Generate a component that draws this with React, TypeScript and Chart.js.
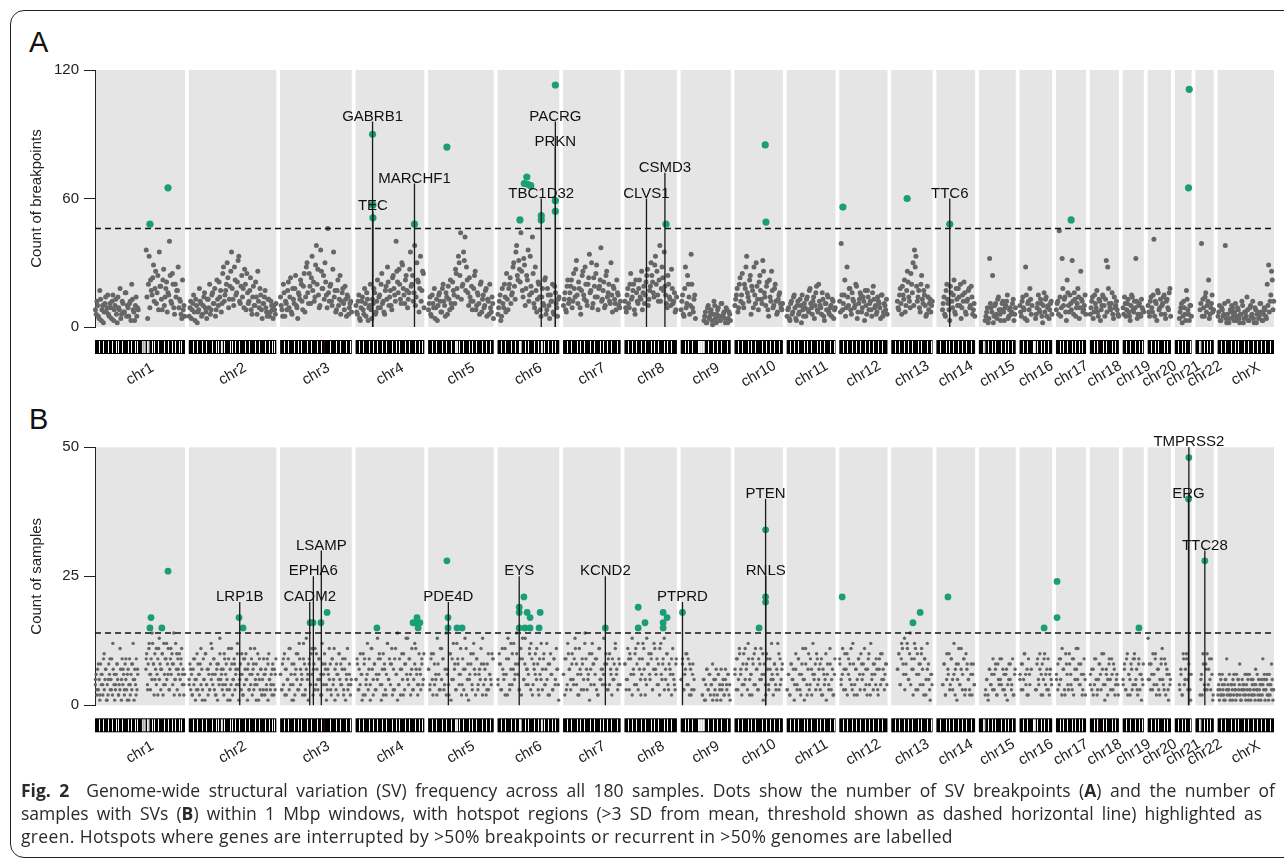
import React, { useEffect, useRef } from "react";
import { Chart, registerables } from "chart.js";
Chart.register(...registerables);

// ---------- data ----------
const CHROMS = ["chr1","chr2","chr3","chr4","chr5","chr6","chr7","chr8","chr9","chr10","chr11","chr12","chr13","chr14","chr15","chr16","chr17","chr18","chr19","chr20","chr21","chr22","chrX"];
const CHROM_LENGTHS = [248.96,242.19,198.3,190.21,181.54,170.81,159.35,145.14,138.39,133.8,135.09,133.28,114.36,107.04,101.99,90.34,83.26,80.37,58.62,64.44,46.71,50.82,156.04];
const GAP_MB = 10.5;

// Panel A: count of breakpoints per window (estimated, "_" = no data)
const BREAKPOINTS_A = [
  "8 12 5 17 3 10 7 14 9 6 11 4 15 8 13 2 9 18 6 11 7 16 10 5 12 20 8 3 14 9 _ _ _ _ _ 36 4 33 22 15 29 18 11 24 35 19 8 27 14 21 16 40 12 25 9 20 17 28 13 6 22 10",
  "5 12 8 15 3 10 7 18 11 6 14 9 4 13 20 8 16 11 5 22 10 14 7 25 12 17 30 9 19 35 13 28 15 21 33 11 24 18 27 8 16 12 23 6 19 10 14 26 9 15 4 11 17 7 13 5 12 8 10 6",
  "14 8 20 5 11 17 9 23 6 13 18 10 4 15 22 12 19 7 28 16 25 11 33 21 14 38 27 9 36 18 24 30 15 46 12 20 10 35 17 8 22 13 6 16 11 19 5 14 9 12",
  "10 6 15 3 12 8 18 5 13 9 20 4 11 16 7 22 14 9 25 12 6 19 28 10 17 8 24 15 40 21 27 13 30 18 11 24 9 16 35 20 12 38 14 22 7 33 17 25",
  "8 14 5 11 18 9 3 15 12 7 20 10 16 6 13 22 9 17 11 25 14 30 44 19 35 42 28 16 23 12 8 18 26 10 15 6 21 13 9 17 5 12 20 7 11",
  "6 12 3 18 9 14 25 8 20 11 16 30 13 38 22 27 44 17 32 10 24 36 15 19 42 11 28 7 21 14 5 18 10 23 8 15 4 12 20 6 16 9 13",
  "10 16 7 22 13 19 9 25 14 31 11 18 6 24 15 28 12 20 34 17 9 23 14 29 8 19 37 13 21 10 26 16 12 30 7 18 11 22 15 9",
  "12 7 18 9 25 14 20 6 16 11 22 13 8 19 15 24 10 17 30 21 14 33 26 12 38 18 23 35 15 9 20 13 27 11 16 8",
  "8 15 5 28 11 20 6 34 9 13 4 _ _ _ _ _ 3 7 2 10 5 8 1 12 4 6 9 3 11 5 7 2 8 4 6",
  "10 15 7 20 12 25 9 18 33 14 22 6 17 28 11 19 8 24 13 31 16 10 21 5 14 26 9 18 12 7 15 11 8",
  "5 9 3 12 7 15 4 10 6 13 2 8 11 5 14 7 18 9 12 4 16 8 20 10 6 13 3 11 15 7 9 5 12 8",
  "12 39 8 15 5 28 10 18 6 13 9 20 4 11 16 7 14 3 10 17 8 12 5 19 9 6 14 11 4 15 7 10 13",
  "_ _ _ _ 12 8 18 6 15 22 10 26 14 9 20 30 36 33 12 17 7 24 11 15 5 19 8 13 10",
  "_ _ _ _ 8 14 5 20 11 3 16 9 22 6 13 18 10 4 15 21 7 12 17 9 19 6 11",
  "_ _ _ _ 3 7 2 32 9 24 5 11 4 14 6 8 12 3 10 15 5 9 7 13 6",
  "10 5 14 8 28 3 12 18 6 _ _ 4 9 15 7 11 2 16 13 5 10 8 12",
  "8 12 45 5 32 10 14 3 16 7 11 31 6 13 9 18 4 26 12 8 15",
  "6 12 4 15 9 7 13 3 10 14 5 31 28 11 8 16 4 9 12 6",
  "9 14 5 11 7 3 15 8 12 32 4 10 6 13 8",
  "10 5 14 7 41 12 3 16 9 6 11 15 4 13 8 18",
  "_ _ _ 4 9 2 12 6 17 8 3 10",
  "_ _ _ 8 39 13 5 16 10 22 6 11 7",
  "5 10 3 8 6 38 2 12 4 7 9 3 11 5 8 2 6 10 4 7 14 3 9 5 12 2 8 6 4 11 7 3 9 5 20 29 12 26 8",
];
// Panel A: further windows (interleaved estimates of the dense part of the cloud)
const BREAKPOINTS_A_MORE = [
  "6 10 4 13 8 2 11 7 15 5 9 12 3 10 6 14 8 4 12 7 16 5 9 11 3 13 7 10 5 8 _ _ _ _ _ 14 20 9 17 23 12 26 16 8 19 13 22 10 18 7 15 24 11 20 6 14 17 9 12 4 8 5",
  "9 4 11 7 13 2 8 12 5 10 16 7 13 9 6 15 11 18 8 13 21 17 11 28 15 20 23 13 26 18 10 22 16 31 12 19 14 9 20 25 11 17 8 14 10 21 6 12 18 8 11 14 9 5 13 7 10 4 8 11",
  "10 5 16 12 8 21 14 7 18 11 24 9 16 13 20 8 25 14 30 11 19 23 17 12 29 20 15 10 26 18 13 21 9 16 19 12 27 14 7 17 10 24 12 18 8 13 15 6 11 7",
  "7 12 4 9 14 6 11 16 3 10 8 13 18 6 12 9 15 20 11 7 17 13 21 14 10 23 18 12 26 16 20 11 29 15 22 17 13 27 19 24 16 10 30 21 18 12 26 9",
  "11 6 15 9 4 13 10 16 7 18 12 5 14 19 8 11 21 15 27 18 33 24 13 20 31 17 22 10 14 19 12 24 8 16 11 20 7 15 10 18 13 6 9 14 4",
  "9 15 5 11 20 7 13 18 23 15 28 19 35 24 31 21 26 14 29 18 22 12 33 16 25 9 17 13 20 8 14 11 22 6 18 10 15 12 7 19 11 5 14",
  "13 8 19 11 16 22 12 18 27 15 21 9 17 26 13 20 10 23 16 30 11 19 25 14 18 22 12 17 9 24 14 20 11 15 19 13 8 16 10 12",
  "9 15 11 20 13 17 8 22 12 18 14 26 16 11 21 27 13 19 24 16 29 20 15 22 12 28 17 19 11 24 14 10 18 12 7 14",
  "12 6 18 9 24 14 10 20 7 15 _ _ _ _ _ _ 5 2 9 4 7 3 6 10 2 8 5 3 11 6 4 9 2 7 3",
  "13 18 9 23 15 11 20 28 16 12 24 19 9 15 30 13 21 17 11 26 14 19 8 22 12 17 10 20 6 13 16 9 11",
  "8 4 11 6 14 9 3 12 7 10 15 5 9 13 8 17 11 6 14 10 19 7 12 9 16 5 11 8 14 6 10 13 4 9",
  "7 15 11 22 9 14 18 8 16 12 10 19 7 13 15 9 12 17 6 14 11 8 16 13 10 7 12 9 15 5 11 8 6",
  "_ _ _ _ 9 15 11 19 13 7 17 21 12 25 16 10 28 19 14 9 20 13 17 10 6 14 11 7 12",
  "_ _ _ _ 11 6 17 13 8 19 12 15 7 18 10 14 20 9 12 16 6 13 18 10 14 8 5",
  "_ _ _ _ 5 9 4 11 7 2 10 6 13 8 3 11 7 9 12 4 8 6 11 3 9",
  "7 12 9 4 15 11 8 13 10 _ _ 6 11 8 13 5 10 7 14 9 4 11 6",
  "11 6 14 9 18 13 7 22 10 15 8 12 16 5 11 14 9 13 7 10 6",
  "9 14 7 11 17 5 12 8 15 10 13 7 18 9 11 6 14 10 8 5",
  "6 11 8 13 5 10 14 7 9 12 6 11 5 9 7",
  "7 12 9 15 5 11 17 8 13 10 14 6 12 9 16 5",
  "_ _ _ 7 11 5 9 3 13 6 10 5",
  "_ _ _ 11 5 9 14 7 12 4 9 15 8",
  "7 3 9 5 11 4 6 2 8 10 5 7 3 9 4 6 12 2 7 5 8 3 10 6 4 9 2 7 5 11 3 6 8 4 10 7 15 22 12",
];

// Panel B: count of samples per window (estimated)
const SAMPLES_B = [
  "5 3 8 2 6 4 10 7 1 5 9 3 12 6 4 8 2 11 5 7 3 9 6 1 4 8 12 5 2 7 _ _ _ _ _ 9 3 12 6 14 8 5 11 2 13 7 10 4 9 12 6 3 11 8 14 5 10 7 2 9 6 4",
  "4 7 2 9 5 3 8 6 11 1 5 10 4 7 3 12 6 9 2 8 5 13 7 4 10 6 3 9 1 11 5 8 7 12 4 6 10 2 9 5 7 3 11 6 8 4 1 10 5 7 2 9 6 3 8 5 4 7 2 6",
  "6 3 9 2 7 5 11 4 8 1 6 10 3 12 7 5 9 2 13 6 8 4 11 7 3 10 5 9 2 12 6 8 4 7 11 3 9 5 1 8 6 10 4 7 2 9 5 3 6 4",
  "5 8 3 10 6 2 9 4 12 7 1 11 5 8 3 13 6 9 4 10 7 2 12 5 8 11 3 9 6 14 4 7 10 2 8 13 5 9 6 11 3 12 7 4 10 6 8 5",
  "7 4 10 2 8 5 13 6 3 11 9 4 14 7 2 10 5 12 8 3 9 6 11 4 7 13 2 8 5 10 3 12 6 9 4 7 11 2 8 5 3 10 6 4 9",
  "5 8 3 11 6 2 9 13 4 7 10 12 6 14 8 3 11 9 5 13 7 4 10 12 2 8 6 11 3 9 5 7 10 4 12 2 8 6 3 9 5 7 4",
  "6 9 3 12 7 5 10 4 13 8 2 11 6 9 3 14 7 5 10 4 12 8 6 9 2 11 5 7 13 4 8 3 10 6 9 5 12 7 4 8",
  "8 5 11 3 9 13 6 10 4 12 7 2 9 11 5 13 8 6 10 3 12 7 9 4 11 6 8 13 5 10 3 7 9 6 4 8",
  "5 9 3 7 10 4 8 2 6 3 _ _ _ _ _ 2 5 1 7 3 6 4 8 2 5 1 6 3 7 4 2 5 3 6 4",
  "6 9 3 11 7 4 10 5 8 12 2 6 9 4 11 7 3 8 5 10 6 2 9 4 7 12 5 8 3 6 10 4 7",
  "3 6 2 8 5 1 7 4 9 3 6 11 5 8 2 10 4 7 12 6 3 9 5 8 2 7 4 10 6 3 8 5 2 6",
  "9 5 11 7 3 10 6 8 4 12 2 7 5 9 3 8 6 11 4 7 10 2 5 8 6 9 3 7 4 10 5 6 8",
  "_ _ _ _ 7 10 4 12 8 13 6 11 5 14 9 7 12 3 10 6 8 11 4 9 2 7 5 1 6",
  "_ _ _ _ 4 8 2 10 6 3 9 5 12 7 1 8 4 11 6 9 3 7 5 2 8 6 4",
  "_ _ _ _ 2 5 1 7 4 3 6 8 2 5 9 4 7 3 6 1 5 8 4 2 6",
  "5 8 3 10 6 2 9 4 7 _ _ 3 8 5 10 6 2 9 4 7 3 6 5",
  "6 3 9 5 11 7 2 8 4 10 6 3 9 5 7 11 4 8 2 6 5",
  "4 7 2 9 5 3 8 6 10 4 1 7 5 9 3 6 8 2 5 4",
  "5 8 3 10 6 2 7 4 9 5 3 8 6 1 4",
  "13 5 8 3 6 10 4 7 2 9 5 3 8 6 1 4",
  "_ _ _ 4 7 2 9 5 10 3 6 1",
  "_ _ _ 2 6 10 4 8 3 7 5 9 1",
  "3 6 2 4 1 5 9 3 2 4 1 6 3 2 5 8 1 3 4 2 6 1 3 5 2 4 7 3 1 2 4 9 5 3 6 2 4 8 3",
];
// Panel B: further windows, one character per window (digits, a=10, b=11, c=12, d=13, _ = no data)
const SAMPLES_B_MORE = [
  "4627351846293571428635927413685243719462853174926385174936__________7a48b6395c82a7469b5837a2c64958b3796a4825c7396a58b4726",
  "5836274915a3628473951a4726385b493627184a5637294851b3748259364a7158362947a5183649273b58461937253627491a536284739",
  "6384a72593b6148275a39462c8375194a628b473956284a713658294b7362a58493716b4825",
  "5937461a8256394b7283659a4172836c5948273b6149275a386d4927358b6247394a",
  "7395a46283b5937264a19573c8462937b51684a7293658d4728365a9",
  "4a8375b6293c4758a6392d58476b3947a5826c3947582a6394b71",
  "6294a73859b4627385c93617a84932b57468a3947258b6394",
  "8359a6274b83956c7248a5937b6482c5937a4862b539",
  "5836a4927385______2514736241537264135274621",
  "7395a6284b7395628a47395b6184a739562847c3958",
  "3628574a3962851b47392658a4739265184b3729",
  "8463a7295b3847296a5837294c6384729a57384",
  "_____7a49b638c5a4729b6384a7295c8364",
  "_____48257a4936285b47392a8536284",
  "_____3527469372845936274853927",
  "6385a4726_____3947285a639274",
  "5849273a6384927b5846392",
  "6374925837a46285937462",
  "4739265839a47293658",
  "5836a4927358b4927365",
  "____362a4795836",
  "____52837a49362",
  "2413526324153243612435243162534213542361435263124532143625341524361352416243513",
];

// hotspots: [chrom, position Mb, value]
const HOTSPOTS_A: [string, number, number][] = [
  ["chr1",152,48],["chr1",202,65],
  ["chr4",47,90],["chr4",48,57],["chr4",48,51],["chr4",163,48],
  ["chr5",52,84],
  ["chr6",81,70],["chr6",74,67],["chr6",85,66.5],["chr6",92,66],["chr6",62,50],["chr6",121,52],["chr6",121,50],["chr6",160,59],["chr6",160,54],["chr6",160,113],
  ["chr8",115,48],
  ["chr10",85,85],["chr10",87,49],
  ["chr12",10,56],
  ["chr13",44,60],
  ["chr14",37,48],
  ["chr17",42,50],
  ["chr21",40,111],["chr21",38,65],
];
const HOTSPOTS_B: [string, number, number][] = [
  ["chr1",155,17],["chr1",152,15],["chr1",185,15],["chr1",202,26],
  ["chr2",139,17],["chr2",150,15],
  ["chr3",83,16],["chr3",91,16],["chr3",113,16],["chr3",130,18],
  ["chr4",59,15],["chr4",170,17],["chr4",159,16],["chr4",173,15],["chr4",166,16],["chr4",178,16],
  ["chr5",52,28],["chr5",55,17],["chr5",55,15],["chr5",80,15],["chr5",94,15],
  ["chr6",60,19],["chr6",60,18],["chr6",73,21],["chr6",82,18],["chr6",90,17],["chr6",60,15],["chr6",76,15],["chr6",90,15],["chr6",115,15],["chr6",118,18],
  ["chr7",117,15],
  ["chr8",38,19],["chr8",38,15],["chr8",57,16],["chr8",107,18],["chr8",118,17],["chr8",107,16],["chr8",107,15],
  ["chr9",5,18],
  ["chr10",86,34],["chr10",86,21],["chr10",86,20],["chr10",68,15],
  ["chr12",8,21],
  ["chr13",60,16],["chr13",80,18],
  ["chr14",32,21],
  ["chr16",68,15],
  ["chr17",3,24],["chr17",3,17],
  ["chr19",45,15],
  ["chr21",39,48],["chr21",38,40],
  ["chr22",26,28],
];

// labelled genes: [name, chrom, position Mb, top of line]
const GENES_A: [string, string, number, number][] = [
  ["GABRB1","chr4",47,96],["TEC","chr4",48,54],["MARCHF1","chr4",163,67],
  ["PACRG","chr6",160,96],["PRKN","chr6",160,84],["TBC1D32","chr6",121,60],
  ["CLVS1","chr8",61,60],["CSMD3","chr8",112,72],["TTC6","chr14",37,60],
];
const GENES_B: [string, string, number, number][] = [
  ["LRP1B","chr2",141,20],["CADM2","chr3",82,20],["EPHA6","chr3",92,25],["LSAMP","chr3",114,30],
  ["PDE4D","chr5",56,20],["EYS","chr6",60,25],["KCND2","chr7",117,25],["PTPRD","chr9",5,20],
  ["PTEN","chr10",86,40],["RNLS","chr10",86.5,25],["TMPRSS2","chr21",39,50],["ERG","chr21",38,40],["TTC28","chr22",26,30],
];

const THRESHOLD_A = 46;
const THRESHOLD_B = 14;
const Y_MAX_A = 120;
const Y_MAX_B = 50;
const Y_STEP_A = 60;
const Y_STEP_B = 25;

// ideogram band patterns: 1 black, 0 thin white line, 2 light grey, 3 white block, 4 dark red
const IDEOGRAM = [
  "1010110101001011010100112202100101101010101001",
  "10101101011010013011001010110101101011010100",
  "101011010101101011010141101101011010",
  "10101101010110101101010110101101010",
  "101011010110103010110101011010101",
  "1010110101031010110101301010101",
  "10101101010110101101010101101",
  "101010110101101010110101011",
  "1010101103331011010101101",
  "1010110101011101010101101",
  "1010101101010110101011010",
  "1010110101011010101101011",
  "101011010101101011010",
  "10110101011010101101",
  "1021010101101010101",
  "1010110301010101",
  "1010101101010101",
  "101041010110101",
  "10101101010",
  "101010110101",
  "101010110",
  "1021010101",
  "10101101010110101101010101101",
];

// ---------- derived ----------
const OFFSETS: number[] = [];
{
  let acc = 0;
  CHROM_LENGTHS.forEach((len) => { OFFSETS.push(acc); acc += len + GAP_MB; });
}
const TOTAL = OFFSETS[OFFSETS.length - 1] + CHROM_LENGTHS[CHROM_LENGTHS.length - 1];
const chromIndex = (c: string) => CHROMS.indexOf(c);
const gx = (c: string, pos: number) => OFFSETS[chromIndex(c)] + pos;

function tokensToPoints(tokenLists: string[][], shift: number) {
  const pts: { x: number; y: number }[] = [];
  tokenLists.forEach((vals, i) => {
    const n = vals.length;
    vals.forEach((v, j) => {
      if (v === "_" || v === "") return;
      pts.push({ x: OFFSETS[i] + ((j + shift) * CHROM_LENGTHS[i]) / n, y: Number(v) });
    });
  });
  return pts;
}
const spaced = (arr: string[]) => arr.map((s) => s.trim().split(/\s+/));
const charCoded = (arr: string[]) =>
  arr.map((s) => s.split("").map((c) => (c === "_" ? "_" : String(parseInt(c, 16)))));

const FONT = "'Liberation Sans', Arial, Helvetica, sans-serif";
const GREY = "#666666";
const GREEN = "#1B9E77";

function makeConfig(opts: {
  points: { x: number; y: number }[]; hotspots: [string, number, number][]; genes: [string, string, number, number][];
  threshold: number; ymax: number; step: number; title: string; padTop: number; padBottom: number;
  greyR: number; greenR: number;
}) {
  const bandsPlugin = {
    id: "bands",
    beforeDraw(chart: any) {
      const { ctx, chartArea } = chart;
      const xs = chart.scales.x;
      ctx.save();
      ctx.fillStyle = "#E5E5E5";
      CHROMS.forEach((_, i) => {
        const x0 = xs.getPixelForValue(OFFSETS[i]);
        const x1 = xs.getPixelForValue(OFFSETS[i] + CHROM_LENGTHS[i]);
        ctx.fillRect(x0, chartArea.top, x1 - x0, chartArea.bottom - chartArea.top);
      });
      ctx.restore();
    },
    afterDraw(chart: any) {
      const { ctx, chartArea } = chart;
      const xs = chart.scales.x;
      const y0 = chartArea.bottom + 13;
      const h = 14;
      ctx.save();
      CHROMS.forEach((name, i) => {
        const x0 = xs.getPixelForValue(OFFSETS[i]);
        const x1 = xs.getPixelForValue(OFFSETS[i] + CHROM_LENGTHS[i]);
        ctx.fillStyle = "#000";
        ctx.fillRect(x0, y0, x1 - x0, h);
        const pat = IDEOGRAM[i];
        const w = (x1 - x0 - 2) / pat.length;
        for (let k = 0; k < pat.length; k++) {
          const c = pat[k];
          const sx = x0 + 1 + k * w;
          if (c === "0") { ctx.fillStyle = "#fff"; ctx.fillRect(Math.round(sx + w / 2), y0 + 1, 1, h - 2); }
          else if (c === "2") { ctx.fillStyle = "#cfcfcf"; ctx.fillRect(sx, y0 + 1, w, h - 2); }
          else if (c === "3") { ctx.fillStyle = "#f4f4f4"; ctx.fillRect(sx, y0 + 1, w, h - 2); }
          else if (c === "4") { ctx.fillStyle = "#3a0c0c"; ctx.fillRect(sx, y0 + 1, w * 0.6, h - 2); }
        }
        ctx.save();
        ctx.translate((x0 + x1) / 2, chartArea.bottom + 47);
        ctx.rotate(-Math.PI / 6);
        ctx.fillStyle = "#222";
        ctx.font = `15px ${FONT}`;
        ctx.textAlign = "center";
        ctx.textBaseline = "middle";
        ctx.fillText(name, 0, 0);
        ctx.restore();
      });
      const ys = chart.scales.y;
      ctx.fillStyle = "#111";
      ctx.font = `15px ${FONT}`;
      ctx.textAlign = "center";
      ctx.textBaseline = "middle";
      opts.genes.forEach(([name, c, pos, top]) => {
        ctx.fillText(name, xs.getPixelForValue(gx(c, pos)), ys.getPixelForValue(top) - 5);
      });
      ctx.restore();
    },
  };

  const geneSets = opts.genes.map(([name, c, pos, top]) => ({
    type: "line" as const,
    label: name,
    data: [{ x: gx(c, pos), y: top }, { x: gx(c, pos), y: 0 }],
    borderColor: "#1a1a1a",
    borderWidth: 1.3,
    pointRadius: 0,
    order: 0,
  }));

  return {
    type: "scatter" as const,
    data: {
      datasets: [
        { label: "windows", data: opts.points, pointRadius: opts.greyR, pointBorderWidth: 0, borderWidth: 0, backgroundColor: GREY, order: 4 },
        { type: "line" as const, label: "threshold", data: [{ x: 0, y: opts.threshold }, { x: TOTAL, y: opts.threshold }], borderColor: "#111", borderWidth: 1.4, borderDash: [6, 4], pointRadius: 0, order: 3 },
        { label: "hotspots", data: opts.hotspots.map(([c, p, v]) => ({ x: gx(c, p), y: v })), pointRadius: opts.greenR, pointBorderWidth: 0, borderWidth: 0, backgroundColor: GREEN, order: 2 },
        ...geneSets,
      ],
    },
    options: {
      animation: false as const,
      responsive: false,
      events: [],
      clip: false as const,
      layout: { padding: { left: 0, right: 10, top: opts.padTop, bottom: opts.padBottom } },
      plugins: { legend: { display: false }, tooltip: { enabled: false } },
      scales: {
        x: { type: "linear" as const, min: 0, max: TOTAL, display: false },
        y: {
          min: 0, max: opts.ymax,
          afterFit: (s: any) => { s.width = 95; },
          ticks: { stepSize: opts.step, font: { family: FONT, size: 15 }, color: "#222", padding: 5 },
          grid: { drawOnChartArea: false, drawTicks: true, tickLength: 11, color: "#222", lineWidth: 1 },
          border: { display: true, color: "#222", width: 1 },
          title: { display: true, text: opts.title, font: { family: FONT, size: 15 }, color: "#222", padding: { top: 28, bottom: 0 } },
        },
      },
    },
    plugins: [bandsPlugin],
  };
}

function ChartCanvas({ top, height, build }: { top: number; height: number; build: () => any }) {
  const ref = useRef<HTMLCanvasElement>(null);
  useEffect(() => {
    const chart = new Chart(ref.current as HTMLCanvasElement, build());
    return () => chart.destroy();
  }, []);
  return (
    <canvas ref={ref} width={1284} height={height}
      style={{ position: "absolute", left: 0, top, width: 1284, height }} />
  );
}

const captionStyle: React.CSSProperties = {
  position: "absolute", left: 21, fontFamily: "'Open Sans', 'Noto Sans', sans-serif",
  fontSize: 17.5, letterSpacing: "0.35px", lineHeight: "23px", color: "#2a2a2a", whiteSpace: "nowrap",
};

export default function App() {
  const pointsA = [...tokensToPoints(spaced(BREAKPOINTS_A), 0.3), ...tokensToPoints(spaced(BREAKPOINTS_A_MORE), 0.8)];
  const pointsB = [...tokensToPoints(spaced(SAMPLES_B), 0.3), ...tokensToPoints(charCoded(SAMPLES_B_MORE), 0.5)];
  return (
    <div style={{ position: "absolute", left: 0, top: 0, width: 1284, height: 860, overflow: "hidden", background: "#fff" }}>
      <div style={{ position: "absolute", left: 10, top: 10, width: 1300, height: 846, border: "1.5px solid #222", borderRadius: 14 }} />
      <div style={{ position: "absolute", left: 29, top: 28, fontFamily: FONT, fontSize: 29, lineHeight: "29px", color: "#111" }}>A</div>
      <div style={{ position: "absolute", left: 29, top: 405, fontFamily: FONT, fontSize: 29, lineHeight: "29px", color: "#111" }}>B</div>
      <ChartCanvas top={0} height={400} build={() => makeConfig({
        points: pointsA, hotspots: HOTSPOTS_A, genes: GENES_A, threshold: THRESHOLD_A,
        ymax: Y_MAX_A, step: Y_STEP_A, title: "Count of breakpoints", padTop: 70, padBottom: 73, greyR: 2.5, greenR: 3.6,
      })} />
      <ChartCanvas top={400} height={380} build={() => makeConfig({
        points: pointsB, hotspots: HOTSPOTS_B, genes: GENES_B, threshold: THRESHOLD_B,
        ymax: Y_MAX_B, step: Y_STEP_B, title: "Count of samples", padTop: 47.3, padBottom: 74.7, greyR: 1.7, greenR: 3.4,
      })} />
      <div style={{ ...captionStyle, top: 779, width: 1254, textAlign: "justify", textAlignLast: "justify", whiteSpace: "normal", letterSpacing: "0px" } as any}>
        <b>Fig. 2</b>&nbsp; Genome-wide structural variation (SV) frequency across all 180 samples. Dots show the number of SV breakpoints (<b>A</b>) and the number of
      </div>
      <div style={{ ...captionStyle, top: 802, width: 1241, textAlign: "justify", textAlignLast: "justify", whiteSpace: "normal", letterSpacing: "0px" } as any}>
        samples with SVs (<b>B</b>) within 1 Mbp windows, with hotspot regions (&gt;3 SD from mean, threshold shown as dashed horizontal line) highlighted as
      </div>
      <div style={{ ...captionStyle, top: 825 }}>
        green. Hotspots where genes are interrupted by &gt;50% breakpoints or recurrent in &gt;50% genomes are labelled
      </div>
    </div>
  );
}
